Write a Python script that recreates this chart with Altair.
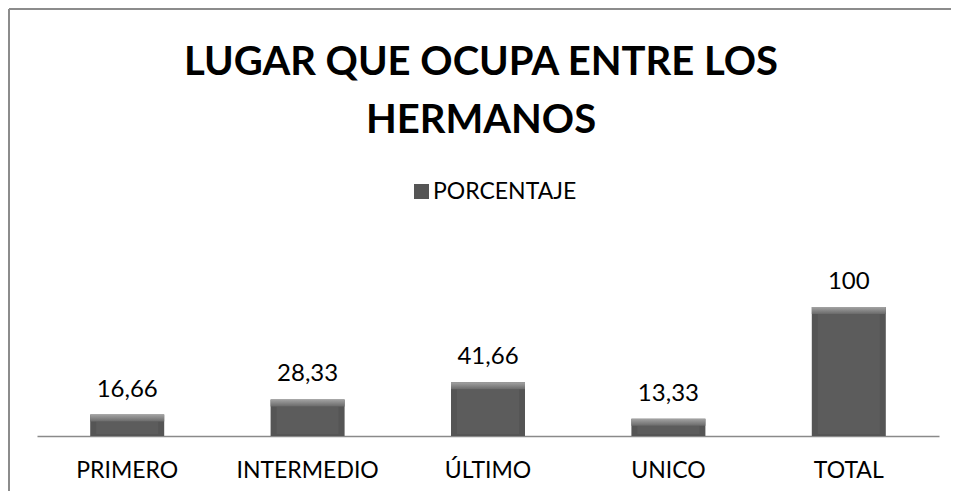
import altair as alt
import pandas as pd

categorias = ["PRIMERO", "INTERMEDIO", "ÚLTIMO", "UNICO", "TOTAL"]
porcentajes = [16.66, 28.33, 41.66, 13.33, 100]
etiquetas = ["16,66", "28,33", "41,66", "13,33", "100"]
serie = "PORCENTAJE"
titulo = "LUGAR QUE OCUPA ENTRE LOS\nHERMANOS"

df = pd.DataFrame({
    "cat": categorias,
    "v": porcentajes,
    "lab": etiquetas,
    "serie": [serie] * len(categorias),
})

FONT = "Lato"

x = alt.X("cat:N", sort=categorias, title=None,
          scale=alt.Scale(paddingInner=0.59, paddingOuter=0.295),
          axis=alt.Axis(labelAngle=0, ticks=False, labelPadding=23,
                        labelFontSize=23, labelFont=FONT, labelColor="#000000",
                        domainColor="#8a8a8a", domainWidth=1.5, grid=False))
y = alt.Y("v:Q", scale=alt.Scale(domain=[0, 100]), axis=None, title=None)

base = alt.Chart(df)

outer = base.mark_bar(size=74, color="#474747").encode(
    x=x, y=y, y2=alt.datum(0),
    color=alt.Color("serie:N", scale=alt.Scale(range=["#555555"]), title=None,
                    legend=alt.Legend(orient="none", legendX=373, legendY=-127,
                                      symbolType="square", symbolSize=225,
                                      symbolStrokeWidth=0, labelFontSize=23,
                                      labelFont=FONT, labelColor="#000000",
                                      labelOffset=0, padding=0)),
)

face = base.mark_bar(size=62, color="#5c5c5c", yOffset=7, y2Offset=-2).encode(
    x=x, y=y, y2=alt.datum(0)
)

top = base.mark_bar(
    size=74, yOffset=0, y2Offset=7,
    color=alt.Gradient(gradient="linear", x1=0, y1=0, x2=0, y2=1,
                       stops=[alt.GradientStop(offset=0, color="#a3a3a3"),
                              alt.GradientStop(offset=1, color="#6a6a6a")]),
).encode(x=x, y=y, y2=alt.Y2("v:Q"))

labels = base.mark_text(baseline="alphabetic", dy=-18, fontSize=24, font=FONT,
                        color="#000000").encode(x=x, y=y, text="lab:N")

title = alt.Chart(pd.DataFrame({"t": [titulo]})).mark_text(
    font=FONT, fontSize=40, fontWeight="bold", lineBreak="\n", lineHeight=58,
    baseline="alphabetic", align="center", color="#000000"
).encode(x=alt.value(444), y=alt.value(-232), text="t:N")

border_left = alt.Chart(pd.DataFrame({"a": [0]})).mark_rule(
    color="#8c8c8c", strokeWidth=2).encode(
    x=alt.value(-28), y=alt.value(-298), y2=alt.value(190))
border_top = alt.Chart(pd.DataFrame({"a": [0]})).mark_rule(
    color="#8c8c8c", strokeWidth=2).encode(
    x=alt.value(-28), x2=alt.value(925), y=alt.value(-298))

chart = alt.layer(outer, face, top, labels, title, border_left, border_top).properties(
    width=902, height=129,
    autosize=alt.AutoSizeParams(type="none"),
    padding={"left": 29, "top": 299, "right": 12, "bottom": 55},
).configure(font=FONT).configure_view(strokeWidth=0)

chart.save("out.html", embed_options={"renderer": "svg", "actions": False})
